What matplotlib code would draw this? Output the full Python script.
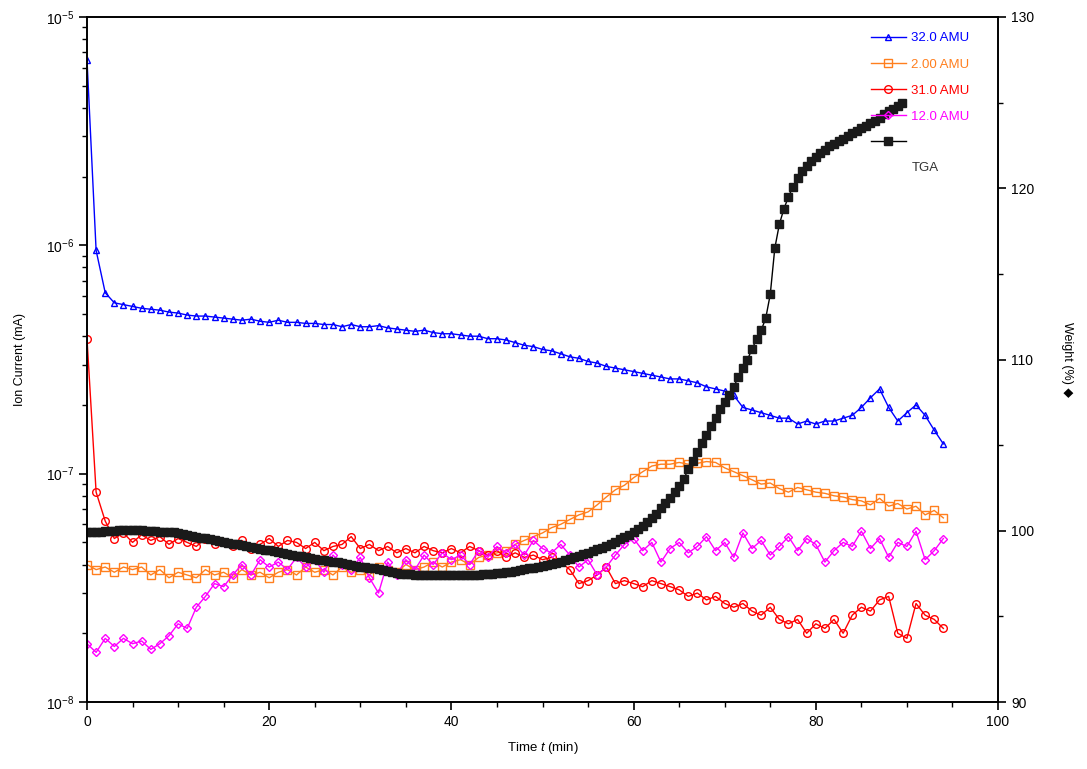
import numpy as np
import matplotlib
matplotlib.use("Agg")
import matplotlib.pyplot as plt
from matplotlib.ticker import MultipleLocator, LogLocator, NullFormatter

plt.rcParams['font.family'] = ['Liberation Sans', 'DejaVu Sans']
plt.rcParams['mathtext.fontset'] = 'custom'
plt.rcParams['mathtext.rm'] = 'Liberation Sans'
plt.rcParams['mathtext.it'] = 'Liberation Sans:italic'

# ---------------- data ----------------
ion_time = np.arange(95) * 1.0           # min
ion_scale = 1e-8                          # values below are in units of 1e-8 mA

amu32 = [650, 95, 62, 56, 55, 54, 53, 52.5, 52, 51,
         50.5, 49.5, 49, 49, 48.5, 48, 47.5, 47, 47.5, 46.5,
         46, 47, 46, 46, 45.5, 45.5, 45, 45, 44, 45,
         44, 44, 44.5, 43.5, 43, 42.5, 42, 42.5, 41.5, 41,
         41, 40.5, 40, 40, 39, 39, 38.5, 37.5, 36.5, 36,
         35, 34.5, 33.5, 32.5, 32, 31, 30.5, 29.5, 29, 28.5,
         28, 27.5, 27, 26.5, 26, 26, 25.5, 25, 24, 23.5,
         23, 22, 19.5, 19, 18.5, 18, 17.5, 17.5, 16.5, 17,
         16.5, 17, 17, 17.5, 18, 19.5, 21.5, 23.5, 19.5, 17,
         18.5, 20, 18, 15.5, 13.5]

amu2 = [4.0, 3.8, 3.9, 3.7, 3.9, 3.8, 3.9, 3.6, 3.8, 3.5,
        3.7, 3.6, 3.5, 3.8, 3.6, 3.7, 3.5, 3.8, 3.6, 3.7,
        3.5, 3.7, 3.8, 3.6, 3.9, 3.7, 3.8, 3.6, 3.9, 3.7,
        3.8, 3.6, 3.9, 3.8, 3.7, 4.0, 3.8, 3.9, 4.1, 3.9,
        4.1, 4.2, 4.0, 4.3, 4.4, 4.5, 4.6, 4.9, 5.1, 5.3,
        5.5, 5.8, 6.0, 6.3, 6.6, 6.8, 7.3, 7.9, 8.5, 8.9,
        9.6, 10.2, 10.8, 11.0, 11.0, 11.2, 11.0, 11.1, 11.3, 11.2,
        10.6, 10.2, 9.8, 9.4, 9.0, 9.1, 8.6, 8.3, 8.7, 8.5,
        8.3, 8.2, 8.0, 7.9, 7.7, 7.6, 7.3, 7.8, 7.2, 7.4,
        7.0, 7.2, 6.6, 6.9, 6.4]

amu31 = [39, 8.3, 6.2, 5.2, 5.5, 5.0, 5.4, 5.1, 5.3, 4.9,
         5.2, 5.0, 4.8, 5.2, 4.9, 5.0, 4.8, 5.1, 4.7, 4.9,
         5.2, 4.8, 5.1, 5.0, 4.7, 5.0, 4.6, 4.8, 4.9, 5.3,
         4.7, 4.9, 4.6, 4.8, 4.5, 4.7, 4.5, 4.8, 4.6, 4.5,
         4.7, 4.5, 4.8, 4.6, 4.4, 4.6, 4.3, 4.5, 4.3, 4.4,
         4.2, 4.3, 4.1, 3.8, 3.3, 3.4, 3.6, 3.9, 3.3, 3.4,
         3.3, 3.2, 3.4, 3.3, 3.2, 3.1, 2.9, 3.0, 2.8, 2.9,
         2.7, 2.6, 2.7, 2.5, 2.4, 2.6, 2.3, 2.2, 2.3, 2.0,
         2.2, 2.1, 2.3, 2.0, 2.4, 2.6, 2.5, 2.8, 2.9, 2.0,
         1.9, 2.7, 2.4, 2.3, 2.1]

amu12 = [1.8, 1.65, 1.9, 1.75, 1.9, 1.8, 1.85, 1.7, 1.8, 1.95,
         2.2, 2.1, 2.6, 2.9, 3.3, 3.2, 3.6, 4.0, 3.6, 4.2,
         3.9, 4.1, 3.8, 4.3, 3.9, 4.2, 3.7, 4.4, 4.0, 3.8,
         4.3, 3.5, 3.0, 4.1, 3.6, 4.2, 3.8, 4.4, 4.0, 4.5,
         4.2, 4.4, 4.0, 4.6, 4.3, 4.8, 4.5, 4.9, 4.4, 5.1,
         4.7, 4.5, 4.9, 4.4, 3.9, 4.2, 3.6, 3.9, 4.4, 4.9,
         5.2, 4.6, 5.0, 4.1, 4.7, 5.0, 4.5, 4.8, 5.3, 4.6,
         5.0, 4.3, 5.5, 4.7, 5.1, 4.4, 4.8, 5.3, 4.6, 5.2,
         4.9, 4.1, 4.6, 5.0, 4.8, 5.6, 4.7, 5.2, 4.3, 5.0,
         4.8, 5.6, 4.2, 4.6, 5.2]

tga_time = np.arange(180) * 0.5           # min
tga_weight = [99.9, 99.9, 99.95, 99.95, 100.0, 100.0, 100.0, 100.05, 100.05, 100.05,
              100.05, 100.05, 100.05, 100.0, 100.0, 100.0, 99.95, 99.95, 99.9, 99.9,
              99.85, 99.8, 99.75, 99.7, 99.65, 99.6, 99.55, 99.5, 99.45, 99.4,
              99.35, 99.3, 99.25, 99.2, 99.15, 99.1, 99.05, 99.0, 98.95, 98.9,
              98.85, 98.8, 98.75, 98.7, 98.65, 98.6, 98.55, 98.5, 98.45, 98.4,
              98.35, 98.3, 98.27, 98.23, 98.2, 98.15, 98.1, 98.05, 98.0, 97.95,
              97.9, 97.87, 97.83, 97.8, 97.75, 97.7, 97.65, 97.6, 97.55, 97.5,
              97.47, 97.45, 97.43, 97.42, 97.4, 97.4, 97.4, 97.4, 97.4, 97.4,
              97.4, 97.4, 97.4, 97.4, 97.4, 97.42, 97.43, 97.45, 97.47, 97.5,
              97.52, 97.55, 97.58, 97.62, 97.66, 97.7, 97.75, 97.8, 97.85, 97.9,
              97.95, 98.0, 98.07, 98.14, 98.2, 98.28, 98.36, 98.45, 98.54, 98.63,
              98.72, 98.82, 98.92, 99.02, 99.13, 99.25, 99.37, 99.5, 99.63, 99.77,
              99.92, 100.1, 100.3, 100.5, 100.75, 101.0, 101.3, 101.6, 101.9, 102.25,
              102.6, 103.0, 103.6, 104.1, 104.6, 105.1, 105.6, 106.1, 106.6, 107.1,
              107.5, 107.95, 108.4, 109.0, 109.5, 110.0, 110.6, 111.2, 111.7, 112.4,
              113.8, 116.5, 117.9, 118.8, 119.5, 120.1, 120.6, 121.0, 121.3, 121.6,
              121.85, 122.05, 122.25, 122.45, 122.6, 122.75, 122.9, 123.05, 123.2, 123.35,
              123.5, 123.65, 123.8, 123.95, 124.1, 124.35, 124.5, 124.65, 124.8, 125.0]

series_labels = ['32.0 AMU', '2.00 AMU', '31.0 AMU', '12.0 AMU', 'TGA']
series_colors = ['#0000FF', '#FF7F1E', '#FF0000', '#FF00FF', '#000000']

# ---------------- figure ----------------
fig = plt.figure(figsize=(10.87, 7.69), dpi=100)
ax = fig.add_axes([87 / 1087, 1 - 702 / 769, (998 - 87) / 1087, (702 - 17) / 769])
ax2 = ax.twinx()

ion_sets = [amu32, amu2, amu31, amu12]
markers = ['^', 's', 'o', 'D']
msizes = [5, 5.5, 5.5, 4]
handles = []
for vals, lab, col, mk, ms in zip(ion_sets, series_labels[:4], series_colors[:4], markers, msizes):
    h, = ax.plot(ion_time, np.array(vals) * ion_scale, color=col, lw=1.0,
                 marker=mk, ms=ms, mfc='none', mec=col, mew=1.0, label=lab)
    handles.append(h)

ht, = ax2.plot(tga_time, tga_weight, color='black', lw=1.0, marker='s', ms=5.5,
               mfc='#1a1a1a', mec='#1a1a1a', label=' ')
handles.append(ht)

ax.set_yscale('log')
ax.set_ylim(1e-8, 1e-5)
ax.set_xlim(0, 100)
ax2.set_ylim(90, 130)

ax.xaxis.set_major_locator(MultipleLocator(20))
ax.xaxis.set_minor_locator(MultipleLocator(5))
ax.yaxis.set_major_locator(LogLocator(base=10))
ax.yaxis.set_minor_locator(LogLocator(base=10, subs=np.arange(2, 10)))
ax.yaxis.set_minor_formatter(NullFormatter())
ax2.yaxis.set_major_locator(MultipleLocator(10))
ax2.yaxis.set_minor_locator(MultipleLocator(5))

for a in (ax, ax2):
    a.tick_params(which='major', direction='out', length=6, width=1.2, labelsize=10)
    a.tick_params(which='minor', direction='out', length=3.5, width=1.0)
    for s in a.spines.values():
        s.set_linewidth(1.2)
ax.tick_params(top=False, which='both')

ax.set_xlabel('Time $\\it{t}$ (min)', fontsize=9.5, labelpad=8)
ax.set_ylabel('Ion Current (mA)', fontsize=9, labelpad=14)
ax2.set_ylabel('Weight (%) \u25c6', fontsize=9, rotation=270, labelpad=28)

leg = ax2.legend(handles=handles, loc='upper left',
                 bbox_to_anchor=(862 / 1087, 1 - 23 / 769), bbox_transform=fig.transFigure,
                 frameon=False, fontsize=9.5, handlelength=2.6, handletextpad=0.4,
                 labelspacing=1.05, borderpad=0.2)
for txt, col in zip(leg.get_texts(), series_colors):
    txt.set_color(col)
fig.text(912 / 1087, 1 - 168 / 769, series_labels[4], color='#333333',
         fontsize=9.5, ha='left', va='center')

fig.savefig('out.png', dpi=100)
